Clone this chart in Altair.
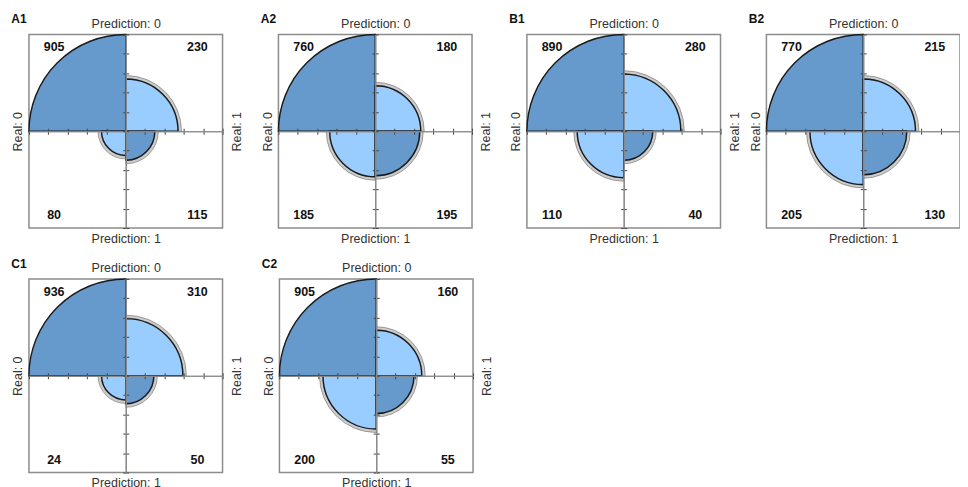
import altair as alt
import pandas as pd

# Panel labels
panels = ["A1", "A2", "B1", "B2", "C1", "C2"]

# Cell order: [Real 0 / Pred 0, Real 1 / Pred 0, Real 0 / Pred 1, Real 1 / Pred 1]
counts = {
    "A1": [905, 230, 80, 115],
    "A2": [760, 180, 185, 195],
    "B1": [890, 280, 110, 40],
    "B2": [770, 215, 205, 130],
    "C1": [936, 310, 24, 50],
    "C2": [905, 160, 200, 55],
}

# Standardized wedge radius (fraction of quadrant)
radii = {
    "A1": [1.0, 0.54, 0.25, 0.30],
    "A2": [1.0, 0.47, 0.47, 0.46],
    "B1": [1.0, 0.59, 0.48, 0.30],
    "B2": [1.0, 0.54, 0.55, 0.45],
    "C1": [1.0, 0.59, 0.25, 0.29],
    "C2": [1.0, 0.47, 0.55, 0.39],
}

# Quadrant geometry: start angle (quarter turns, 0 = 12 o'clock, clockwise), sign of x / y, kind
quad_start = [3, 0, 2, 1]
quad_sx = [-1, 1, -1, 1]
quad_sy = [1, 1, -1, -1]
quad_kind = ["diag", "off", "off", "diag"]

W = 194
HALF = W / 2
FONT = "Liberation Sans"

def panel(label):
    rows = []
    for i in range(4):
        rows.append({
            "count": counts[label][i],
            "rad": radii[label][i],
            "t0": quad_start[i],
            "t1": quad_start[i] + 1,
            "kind": quad_kind[i],
            "tx": quad_sx[i] * 0.74,
            "ty": quad_sy[i] * 0.87,
        })
    df = pd.DataFrame(rows)
    sc = alt.Scale(domain=[-1, 1], nice=False, zero=False)
    th = alt.Theta("t0:Q", scale=alt.Scale(domain=[0, 4], range=[0, 6.283185307]), stack=None)
    th2 = alt.Theta2("t1:Q")
    rsc = alt.Scale(domain=[0, 1], range=[0, HALF], zero=True, nice=False)
    base = alt.Chart(df)

    ring = base.transform_filter("datum.rad < 1").mark_arc(
        fill="#cccccc", stroke="#7a7a7a", strokeWidth=0.7,
        radiusOffset=3.5, radius2Offset=0.5,
    ).encode(theta=th, theta2=th2,
             radius=alt.Radius("rad:Q", scale=rsc),
             radius2=alt.Radius2("rad:Q"))

    wedge = base.mark_arc(stroke="#1a1a1a", strokeWidth=1.4).encode(
        theta=th, theta2=th2,
        radius=alt.Radius("rad:Q", scale=rsc),
        color=alt.Color("kind:N", scale=alt.Scale(domain=["diag", "off"],
                                                  range=["#6699CC", "#99CCFF"]), legend=None),
    )

    plain = dict(labels=False, ticks=False, domain=False, grid=False)
    center = dict(labels=False, grid=False, tickCount=10, tickSize=3, tickColor="#444",
                  domainColor="#8a8a8a", domainWidth=1.2, title=None, zindex=1)

    outer1 = base.mark_point(opacity=0).encode(
        x=alt.X("tx:Q", scale=sc, axis=alt.Axis(orient="top", title="Prediction: 0",
                                                  titlePadding=4, **plain)),
        y=alt.Y("ty:Q", scale=sc, axis=alt.Axis(orient="left", title="Real: 0",
                                                  titlePadding=4, **plain)),
    )
    outer2 = base.mark_point(opacity=0).encode(
        x=alt.X("tx:Q", scale=sc, axis=alt.Axis(orient="bottom", title="Prediction: 1",
                                                  titlePadding=4, **plain)),
        y=alt.Y("ty:Q", scale=sc, axis=alt.Axis(orient="right", title="Real: 1", titleAngle=270,
                                                  titleBaseline="top", titlePadding=8, **plain)),
    )
    c1 = base.mark_point(opacity=0).encode(
        x=alt.X("tx:Q", scale=sc, axis=alt.Axis(orient="bottom", offset=-HALF, **center)),
        y=alt.Y("ty:Q", scale=sc, axis=alt.Axis(orient="left", offset=-HALF, **center)),
    )
    c2 = base.mark_point(opacity=0).encode(
        x=alt.X("tx:Q", scale=sc, axis=alt.Axis(orient="top", offset=-HALF, **center)),
        y=alt.Y("ty:Q", scale=sc, axis=alt.Axis(orient="right", offset=-HALF, **center)),
    )
    text = base.mark_text(font=FONT, fontWeight="bold", fontSize=12.5, color="#111").encode(
        x=alt.X("tx:Q", scale=sc, axis=None),
        y=alt.Y("ty:Q", scale=sc, axis=None),
        text="count:Q",
    )
    lab = alt.Chart(pd.DataFrame({"label": [label]})).mark_text(
        font=FONT, fontWeight="bold", fontSize=12, color="#111", align="center", baseline="middle"
    ).encode(x=alt.value(-10), y=alt.value(-15), text="label:N")

    return alt.layer(outer1, outer2, ring, wedge, c1, c2, text, lab).resolve_axis(
        x="independent", y="independent"
    ).properties(width=W, height=W)

A1, A2, B1, B2, C1, C2 = [panel(p) for p in panels]

row1 = alt.hconcat(alt.hconcat(A1, A2, spacing=15), alt.hconcat(B1, B2, spacing=5), spacing=14)
row2 = alt.hconcat(C1, C2, spacing=16)

chart = alt.vconcat(row1, row2, spacing=11).properties(
    padding={"left": 2, "top": 4, "right": -22, "bottom": 0}
).configure_axis(
    titleFont=FONT, titleFontSize=12.5, titleFontWeight="normal", titleColor="#333"
).configure_view(stroke="#8c8c8c", strokeWidth=1.5)

chart.save("out.html", embed_options={"renderer": "svg", "actions": False})
